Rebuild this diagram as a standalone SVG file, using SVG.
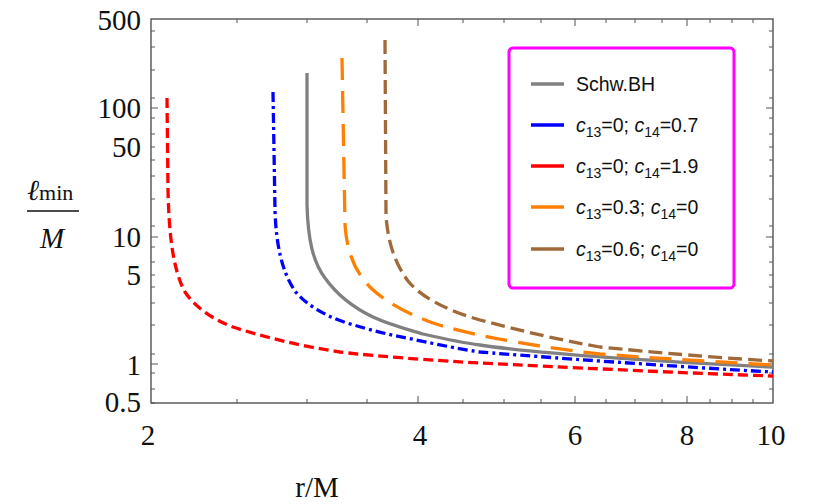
<svg xmlns="http://www.w3.org/2000/svg" width="814" height="504" viewBox="0 0 814 504">
<style>
.tl{font-family:"Liberation Serif",serif;font-size:29px;fill:#111}
.lg{font-family:"Liberation Sans",sans-serif;font-size:19.5px;fill:#111}
.sub{font-size:14px}
.c{fill:none;stroke-width:3.3;stroke-linejoin:round}
.tk{stroke:#555;stroke-width:1}
</style>
<rect width="814" height="504" fill="#fff"/>
<g id="axes">
<rect x="151" y="19" width="622" height="384" fill="none" stroke="#444" stroke-width="1.3"/>
<path class="tk" d="M151,108h7M151,237h7M151,364h7M151,147h4M151,275h4M151,403h4M151,70h4M151,47h4M151,31h4M151,199h4M151,176h4M151,160h4M151,98h4M151,118h4M151,134h4M151,226h4M151,247h4M151,262h4M151,325h4M151,303h4M151,287h4M151,354h4M151,373h4M151,389h4
M773,108h-7M773,237h-7M773,364h-7M773,147h-4M773,275h-4M773,70h-4M773,47h-4M773,31h-4M773,199h-4M773,176h-4M773,160h-4M773,98h-4M773,118h-4M773,134h-4M773,226h-4M773,247h-4M773,262h-4M773,325h-4M773,303h-4M773,287h-4M773,354h-4M773,373h-4M773,389h-4
M418,403v-7M575,403v-7M687,403v-7M237,403v-4M307,403v-4M367,403v-4M463,403v-4M504,403v-4M541,403v-4M606,403v-4M635,403v-4M662,403v-4M710,403v-4M732,403v-4M753,403v-4
M418,19v7M575,19v7M687,19v7M237,19v4M307,19v4M367,19v4M463,19v4M504,19v4M541,19v4M606,19v4M635,19v4M662,19v4M710,19v4M732,19v4M753,19v4"/>
<g class="tl" text-anchor="end">
<text x="141" y="30">500</text>
<text x="141" y="118">100</text>
<text x="141" y="157">50</text>
<text x="141" y="247">10</text>
<text x="141" y="285">5</text>
<text x="141" y="375">1</text>
<text x="141" y="412">0.5</text>
</g>
<g class="tl" text-anchor="middle">
<text x="148" y="445">2</text>
<text x="420" y="445">4</text>
<text x="575" y="445">6</text>
<text x="687" y="445">8</text>
<text x="771" y="445">10</text>
<text x="317" y="497">r/M</text>
</g>
<text class="tl" x="27" y="200" font-style="italic">ℓ<tspan font-style="normal" font-size="22px">min</tspan></text>
<line x1="27" y1="211" x2="79" y2="211" stroke="#111" stroke-width="1.5"/>
<text class="tl" x="52" y="248" text-anchor="middle" font-style="italic">M</text>
</g>
<g id="curves">
<path class="c" stroke="#ff0000" stroke-dasharray="10,5" d="M167,98 L168,190 C169,235 173,270 185,292 C195,307 212,319 233,327 C260,336 300,346 340,352 C380,357 460,362 480,363 C560,367 680,373 773,376"/>
<path class="c" stroke="#0000ff" stroke-dasharray="10,4,3,4" d="M273,92 L275,210 C276,245 282,272 295,291 C305,304 325,316 347,323 C370,330 390,335 407,338 C440,345 465,350 480,352 C540,357 680,367 773,372"/>
<path class="c" stroke="#808080" d="M307,73 L307,205 C308,240 313,262 325,278 C335,292 352,307 373,317 C390,325 410,330 423,334 C445,339 465,343 480,345 C540,354 680,363 773,367"/>
<path class="c" stroke="#ff8000" stroke-dasharray="22,11" d="M342,58 L345,225 C347,255 357,275 372,289 C385,301 405,313 433,323 C460,332 520,345 600,354 C680,360 740,363 773,365"/>
<path class="c" stroke="#a0693a" stroke-dasharray="14,6" d="M385,40 L386,215 C388,245 396,265 408,281 C420,296 445,310 480,320 C530,333 560,340 600,347 C680,355 740,359 773,361"/>
</g>
<g id="legend">
<rect x="509" y="48" width="225" height="240" rx="4" fill="#fff" stroke="#ff00ff" stroke-width="3"/>
<g stroke-width="3.5">
<line x1="531" y1="84" x2="564" y2="84" stroke="#808080"/>
<line x1="531" y1="125" x2="564" y2="125" stroke="#0000ff"/>
<line x1="531" y1="166" x2="564" y2="166" stroke="#ff0000"/>
<line x1="531" y1="207" x2="564" y2="207" stroke="#ff8000"/>
<line x1="531" y1="249" x2="564" y2="249" stroke="#a0693a"/>
</g>
<g class="lg">
<text x="576" y="91">Schw.BH</text>
<text x="576" y="132"><tspan font-style="italic">c</tspan><tspan class="sub" dy="5">13</tspan><tspan dy="-5">=0; </tspan><tspan font-style="italic">c</tspan><tspan class="sub" dy="5">14</tspan><tspan dy="-5">=0.7</tspan></text>
<text x="576" y="173"><tspan font-style="italic">c</tspan><tspan class="sub" dy="5">13</tspan><tspan dy="-5">=0; </tspan><tspan font-style="italic">c</tspan><tspan class="sub" dy="5">14</tspan><tspan dy="-5">=1.9</tspan></text>
<text x="576" y="214"><tspan font-style="italic">c</tspan><tspan class="sub" dy="5">13</tspan><tspan dy="-5">=0.3; </tspan><tspan font-style="italic">c</tspan><tspan class="sub" dy="5">14</tspan><tspan dy="-5">=0</tspan></text>
<text x="576" y="256"><tspan font-style="italic">c</tspan><tspan class="sub" dy="5">13</tspan><tspan dy="-5">=0.6; </tspan><tspan font-style="italic">c</tspan><tspan class="sub" dy="5">14</tspan><tspan dy="-5">=0</tspan></text>
</g>
</g>
</svg>
